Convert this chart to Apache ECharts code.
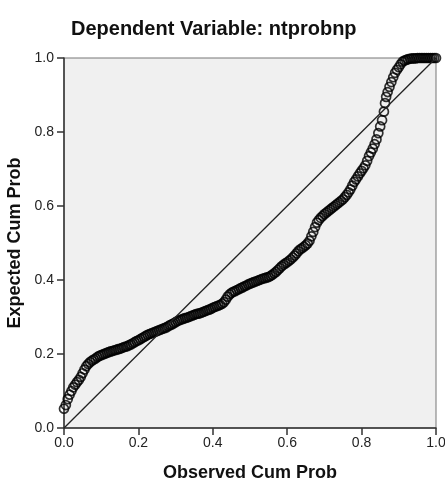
<!DOCTYPE html>
<html>
<head>
<meta charset="utf-8">
<script src="https://cdn.jsdelivr.net/npm/echarts@6/dist/echarts.min.js"></script>
<style>
html,body{margin:0;padding:0;background:#fff;}
#chart{width:445px;height:484px;}
</style>
</head>
<body>
<div id="chart"></div>
<script>
var titleText = 'Dependent Variable: ntprobnp';
var xAxisName = 'Observed Cum Prob';
var yAxisName = 'Expected Cum Prob';
var tickValues = [0.0, 0.2, 0.4, 0.6, 0.8, 1.0];

var obsProb = [
0.000,0.005,0.010,0.015,0.020,0.025,0.030,0.035,0.040,0.045,
0.050,0.055,0.060,0.065,0.070,0.075,0.080,0.085,0.090,0.095,
0.100,0.105,0.110,0.115,0.120,0.125,0.130,0.135,0.140,0.145,
0.150,0.155,0.160,0.165,0.170,0.175,0.180,0.185,0.190,0.195,
0.200,0.205,0.210,0.215,0.220,0.225,0.230,0.235,0.240,0.245,
0.250,0.255,0.260,0.265,0.270,0.275,0.280,0.285,0.290,0.295,
0.300,0.305,0.310,0.315,0.320,0.325,0.330,0.335,0.340,0.345,
0.350,0.355,0.360,0.365,0.370,0.375,0.380,0.385,0.390,0.395,
0.400,0.405,0.410,0.415,0.420,0.425,0.430,0.435,0.440,0.445,
0.450,0.455,0.460,0.465,0.470,0.475,0.480,0.485,0.490,0.495,
0.500,0.505,0.510,0.515,0.520,0.525,0.530,0.535,0.540,0.545,
0.550,0.555,0.560,0.565,0.570,0.575,0.580,0.585,0.590,0.595,
0.600,0.605,0.610,0.615,0.620,0.625,0.630,0.635,0.640,0.645,
0.650,0.655,0.660,0.665,0.670,0.675,0.680,0.685,0.690,0.695,
0.700,0.705,0.710,0.715,0.720,0.725,0.730,0.735,0.740,0.745,
0.750,0.755,0.760,0.765,0.770,0.775,0.780,0.785,0.790,0.795,
0.800,0.805,0.810,0.815,0.820,0.825,0.830,0.835,0.840,0.845,
0.850,0.855,0.860,0.863,0.866,0.870,0.875,0.880,0.885,0.890,
0.895,0.900,0.905,0.910,0.915,0.920,0.925,0.930,0.935,0.940,
0.945,0.950,0.955,0.960,0.965,0.970,0.975,0.980,0.985,0.990,
0.995,1.000
];

var expProb = [
0.052,0.062,0.078,0.090,0.100,0.110,0.117,0.124,0.130,0.138,
0.148,0.158,0.167,0.173,0.178,0.182,0.185,0.188,0.192,0.195,
0.197,0.199,0.201,0.203,0.205,0.207,0.208,0.210,0.211,0.213,
0.214,0.216,0.218,0.220,0.221,0.224,0.226,0.229,0.232,0.235,
0.237,0.240,0.243,0.246,0.249,0.252,0.254,0.256,0.258,0.260,
0.262,0.264,0.266,0.268,0.270,0.272,0.275,0.278,0.280,0.283,
0.286,0.289,0.291,0.293,0.295,0.297,0.298,0.300,0.302,0.304,
0.306,0.308,0.309,0.310,0.312,0.314,0.316,0.318,0.320,0.322,
0.325,0.327,0.329,0.331,0.333,0.336,0.340,0.347,0.355,0.361,
0.365,0.368,0.370,0.373,0.375,0.378,0.380,0.383,0.385,0.388,
0.390,0.392,0.394,0.396,0.398,0.400,0.402,0.404,0.405,0.407,
0.408,0.411,0.414,0.418,0.422,0.427,0.432,0.437,0.441,0.445,
0.448,0.452,0.456,0.461,0.466,0.472,0.478,0.483,0.486,0.490,
0.494,0.499,0.506,0.518,0.530,0.543,0.555,0.562,0.568,0.573,
0.578,0.582,0.586,0.590,0.594,0.598,0.602,0.606,0.610,0.614,
0.618,0.624,0.630,0.637,0.645,0.655,0.665,0.672,0.680,0.688,
0.695,0.702,0.710,0.722,0.735,0.745,0.755,0.767,0.780,0.797,
0.815,0.832,0.855,0.878,0.895,0.908,0.922,0.935,0.948,0.960,
0.968,0.975,0.983,0.990,0.993,0.995,0.997,0.998,0.999,0.999,
0.999,1.000,1.000,1.000,1.000,1.000,1.000,1.000,1.000,1.000,
1.000,1.000
];

var refLine = [[0, 0], [1, 1]];

var points = obsProb.map(function (x, i) { return [x, expProb[i]]; });

var chart = echarts.init(document.getElementById('chart'), null, { renderer: 'canvas' });
var fontFam = '"Liberation Sans", Arial, sans-serif';

chart.setOption({
  animation: false,
  backgroundColor: '#ffffff',
  title: {
    text: titleText,
    left: 66,
    top: 14,
    textStyle: { fontFamily: fontFam, fontSize: 20, fontWeight: 'bold', color: '#111' }
  },
  grid: {
    left: 64, right: 9, top: 58, bottom: 56,
    outerBoundsMode: 'none',
    containLabel: false,
    show: true,
    backgroundColor: '#f0f0f0',
    borderColor: '#777',
    borderWidth: 1
  },
  xAxis: {
    type: 'value', min: 0, max: 1, interval: 0.2,
    name: xAxisName, nameLocation: 'middle', nameGap: 36,
    nameTextStyle: { fontFamily: fontFam, fontSize: 18, fontWeight: 'bold', color: '#111' },
    axisLine: { show: true, lineStyle: { color: '#333', width: 1.5 } },
    axisTick: { show: true, length: 7, lineStyle: { color: '#333', width: 1.5 } },
    axisLabel: { margin: 8, fontFamily: fontFam, fontSize: 14, color: '#222',
      formatter: function (v) { return v.toFixed(1); } },
    splitLine: { show: false }
  },
  yAxis: {
    type: 'value', min: 0, max: 1, interval: 0.2,
    name: yAxisName, nameLocation: 'middle', nameGap: 34, nameRotate: 90,
    nameTextStyle: { fontFamily: fontFam, fontSize: 18, fontWeight: 'bold', color: '#111' },
    axisLine: { show: true, lineStyle: { color: '#333', width: 1.5 } },
    axisTick: { show: true, length: 7, lineStyle: { color: '#333', width: 1.5 } },
    axisLabel: { margin: 10, fontFamily: fontFam, fontSize: 14, color: '#222',
      formatter: function (v) { return v.toFixed(1); } },
    splitLine: { show: false }
  },
  series: [
    {
      type: 'line',
      data: refLine,
      symbol: 'none',
      lineStyle: { color: '#222', width: 1.3 },
      z: 3
    },
    {
      type: 'scatter',
      data: points,
      symbol: 'circle',
      symbolSize: 9,
      itemStyle: { color: 'rgba(0,0,0,0)', borderColor: '#000', borderWidth: 1.7 },
      z: 2
    }
  ]
});
</script>
</body>
</html>
